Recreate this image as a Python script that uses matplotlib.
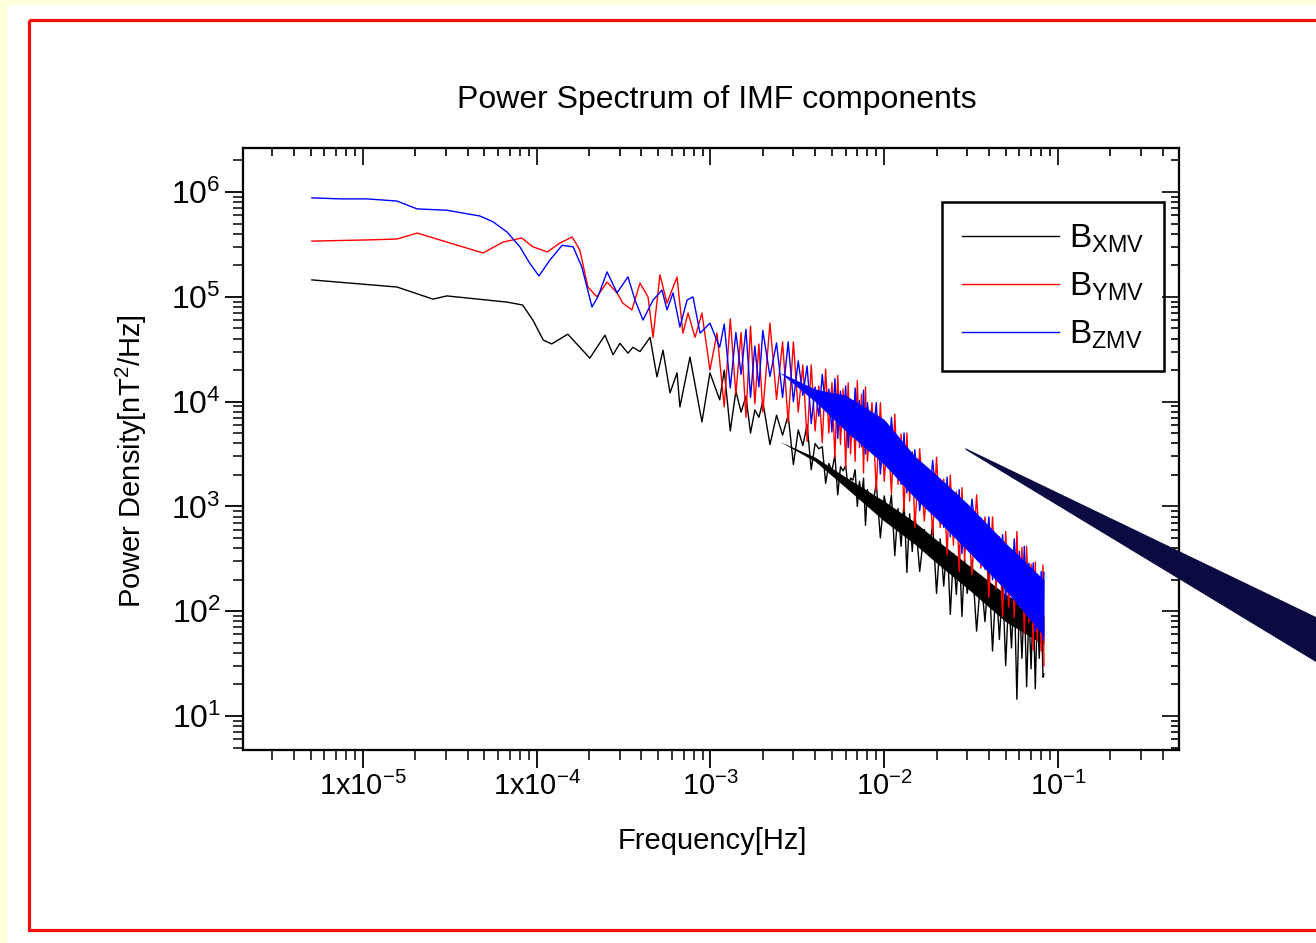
import numpy as np
import matplotlib.pyplot as plt
from matplotlib.patches import Rectangle, Polygon
from matplotlib.transforms import Affine2D
from matplotlib.ticker import LogLocator, NullFormatter

plt.rcParams['font.family'] = ['Liberation Sans', 'DejaVu Sans']
plt.rcParams['mathtext.default'] = 'regular'

W, H = 1316, 943

# ---- low-frequency part, read point by point (Hz, nT^2/Hz) ----
bx_freq_lo = [5.08e-6, 1.57e-5, 2.53e-5, 3.04e-5, 6.75e-5, 8.3e-5, 9.5e-5, 1.09e-4, 1.22e-4, 1.51e-4,
              2.02e-4, 2.47e-4, 2.75e-4, 3.01e-4, 3.35e-4, 3.58e-4, 3.93e-4, 4.49e-4, 4.92e-4, 5.33e-4,
              5.85e-4, 6.42e-4, 6.67e-4, 7.62e-4, 8.93e-4, 9.93e-4, 1.13e-3]
bx_power_lo = [1.45e5, 1.24e5, 9.5e4, 1.02e5, 8.9e4, 8.35e4, 6.0e4, 3.87e4, 3.55e4, 4.4e4,
               2.6e4, 4.3e4, 2.8e4, 3.6e4, 2.9e4, 3.3e4, 3.0e4, 4.1e4, 1.72e4, 3.1e4,
               1.21e4, 1.88e4, 8.9e3, 2.66e4, 6.4e3, 1.88e4, 1.04e4]

by_freq_lo = [5.08e-6, 1.14e-5, 1.57e-5, 2.05e-5, 3.04e-5, 4.9e-5, 6.4e-5, 8.2e-5, 9.5e-5, 1.15e-4,
              1.36e-4, 1.60e-4, 1.77e-4, 1.97e-4, 2.22e-4, 2.54e-4, 2.90e-4, 3.13e-4, 3.53e-4, 3.93e-4,
              4.37e-4, 4.67e-4, 5.12e-4, 5.62e-4, 6.42e-4, 6.94e-4, 7.43e-4, 8.15e-4, 8.93e-4, 9.93e-4,
              1.09e-3]
by_power_lo = [3.4e5, 3.5e5, 3.56e5, 4.06e5, 3.33e5, 2.62e5, 3.33e5, 3.64e5, 3.0e5, 2.68e5,
               3.26e5, 3.72e5, 2.8e5, 1.24e5, 1.0e5, 1.38e5, 1.09e5, 8.7e4, 7.5e4, 1.35e5,
               1.0e5, 4.1e4, 1.62e5, 8.7e4, 1.55e5, 4.5e4, 7.0e4, 4.1e4, 7.0e4, 2.0e4,
               4.5e4]

bz_freq_lo = [5.08e-6, 7.38e-6, 1.05e-5, 1.57e-5, 2.05e-5, 3.04e-5, 4.71e-5, 5.6e-5, 6.75e-5, 8.0e-5,
              9.1e-5, 1.03e-4, 1.19e-4, 1.40e-4, 1.62e-4, 1.82e-4, 2.08e-4, 2.25e-4, 2.54e-4, 2.90e-4,
              3.35e-4, 3.68e-4, 4.09e-4, 4.67e-4, 5.26e-4, 5.62e-4, 6.09e-4, 6.67e-4, 7.33e-4, 7.93e-4,
              8.71e-4, 9.93e-4, 1.13e-3]
bz_power_lo = [8.8e5, 8.6e5, 8.6e5, 8.2e5, 6.9e5, 6.7e5, 5.9e5, 5.2e5, 4.15e5, 3.0e5,
               2.1e5, 1.58e5, 2.24e5, 3.1e5, 3.0e5, 1.92e5, 8.0e4, 1.0e5, 1.73e5, 1.09e5,
               1.55e5, 9.3e4, 6.0e4, 9.3e4, 1.16e5, 7.5e4, 1.09e5, 5.15e4, 9.3e4, 1.0e5,
               4.5e4, 5.6e4, 3.3e4]

# ---- noisy high-frequency part: shared grid (Hz), log10 of power density ----
hf_freq = [1.2e-3, 1.3e-3, 1.4e-3, 1.5e-3, 1.6e-3, 1.7e-3, 1.8e-3, 1.9e-3, 2.0e-3,
           2.2e-3, 2.4e-3, 2.6e-3, 2.8e-3, 3.0e-3, 3.2e-3, 3.4e-3, 3.6e-3, 3.8e-3, 4.0e-3,
           4.2e-3, 4.4e-3, 4.6e-3, 4.8e-3, 5.0e-3, 5.2e-3, 5.4e-3, 5.6e-3, 5.8e-3, 6.0e-3,
           6.2e-3, 6.4e-3, 6.6e-3, 6.8e-3, 7.0e-3, 7.2e-3, 7.4e-3, 7.6e-3, 7.8e-3, 8.0e-3,
           8.5e-3, 9.0e-3, 9.5e-3, 1.0e-2, 1.05e-2, 1.1e-2, 1.15e-2, 1.2e-2, 1.25e-2, 1.3e-2,
           1.35e-2, 1.4e-2, 1.45e-2, 1.5e-2,
           1.6e-2, 1.7e-2, 1.8e-2, 1.9e-2, 2.0e-2, 2.1e-2, 2.2e-2, 2.3e-2, 2.4e-2, 2.5e-2,
           2.6e-2, 2.7e-2, 2.8e-2, 2.9e-2, 3.0e-2,
           3.2e-2, 3.4e-2, 3.6e-2, 3.8e-2, 4.0e-2, 4.2e-2, 4.4e-2, 4.6e-2, 4.8e-2, 5.0e-2,
           5.2e-2, 5.4e-2, 5.6e-2, 5.8e-2, 6.0e-2, 6.2e-2, 6.4e-2, 6.6e-2, 6.8e-2, 7.0e-2,
           7.2e-2, 7.4e-2, 7.6e-2, 7.8e-2, 8.0e-2, 8.2e-2, 8.3e-2]
bx_hf_log = [4.30, 3.72, 4.10, 3.90, 4.05, 3.70, 3.92, 3.85, 4.00,
             3.59, 3.87, 3.68, 3.87, 3.40, 3.73, 3.58, 3.78, 3.35, 3.60,
             3.55, 3.57, 3.22, 3.41, 3.34, 3.49, 3.11, 3.38, 3.34, 3.39,
             3.17, 3.27, 3.25, 3.35, 3.00, 3.24, 3.09, 3.27, 2.82, 3.16,
             2.97, 3.22, 2.70, 3.10, 2.89, 3.11, 2.53, 2.98, 2.62, 3.05,
             2.37, 2.93, 2.57, 2.94,
             2.38, 2.78, 2.55, 2.83, 2.17, 2.69, 2.24, 2.68, 1.97, 2.55,
             2.16, 2.63, 1.95, 2.50, 2.17,
             2.49, 1.81, 2.34, 1.90, 2.41, 1.62, 2.28, 1.73, 2.28, 1.48,
             2.15, 1.65, 2.24, 1.16, 2.12, 1.55, 2.13, 1.28, 2.01, 1.45,
             2.11, 1.26, 2.02, 1.55, 2.06, 1.37, 1.40]
by_hf_log = [3.95, 4.79, 4.07, 4.66, 3.85, 4.72, 3.98, 4.55, 3.90,
             4.75, 4.02, 4.57, 3.80, 4.57, 3.90, 4.35, 3.62, 4.35, 3.72,
             4.15, 3.61, 4.31, 3.70, 4.18, 3.46, 4.25, 3.59, 4.12, 3.37,
             4.18, 3.50, 4.01, 3.43, 4.20, 3.56, 4.07, 3.32, 4.14, 3.43,
             3.99, 3.15, 3.99, 3.24, 3.76, 3.12, 3.88, 3.21, 3.69, 2.95,
             3.70, 3.05, 3.52, 2.80,
             3.55, 2.86, 3.36, 2.73, 3.47, 2.80, 3.26, 2.54, 3.30, 2.63,
             3.14, 2.38, 3.18, 2.48, 2.99,
             2.35, 3.11, 2.41, 2.90, 2.13, 2.90, 2.21, 2.71, 1.95, 2.76,
             2.04, 2.57, 1.94, 2.76, 2.04, 2.61, 1.79, 2.62, 1.89, 2.45,
             1.63, 2.47, 1.72, 2.27, 1.62, 2.44, 1.48]
bz_hf_log = [4.74, 4.13, 4.66, 4.26, 4.69, 4.04, 4.53, 4.14, 4.68,
             4.24, 4.56, 4.04, 4.57, 4.00, 4.39, 4.06, 4.34, 3.79, 4.14,
             3.86, 4.26, 3.92, 4.12, 3.71, 4.22, 3.65, 4.10, 3.78, 4.15,
             3.56, 3.99, 3.66, 4.13, 3.77, 4.01, 3.57, 4.11, 3.50, 3.99,
             3.59, 3.99, 3.31, 3.77, 3.37, 3.85, 3.44, 3.66, 3.21, 3.70,
             3.13, 3.52, 3.23, 3.54,
             2.96, 3.34, 2.98, 3.44, 3.04, 3.24, 2.80, 3.28, 2.71, 3.14,
             2.81, 3.16, 2.55, 2.98, 2.62,
             3.07, 2.65, 2.89, 2.40, 2.90, 2.30, 2.72, 2.38, 2.73, 2.12,
             2.56, 2.18, 2.69, 2.26, 2.57, 2.05, 2.62, 1.97, 2.46, 2.06,
             2.46, 1.80, 2.27, 1.86, 2.38, 1.72, 2.37]

# solid core of the dense band (log10), opening up gradually from 2.5e-3 Hz
core_freq = [2.5e-3, 4e-3, 6e-3, 1e-2, 1.5e-2, 2e-2, 3e-2, 5e-2, 8.3e-2]
bx_core_hi = [3.62, 3.47, 3.28, 3.05, 2.85, 2.68, 2.45, 2.16, 1.96]
bx_core_lo = [3.62, 3.43, 3.18, 2.86, 2.64, 2.46, 2.22, 1.90, 1.68]
bz_core_hi = [4.28, 4.12, 4.06, 3.83, 3.48, 3.30, 3.03, 2.65, 2.30]
bz_core_lo = [4.28, 4.00, 3.72, 3.40, 3.08, 2.88, 2.58, 2.20, 1.76]

labels = [r'B$_{XMV}$', r'B$_{YMV}$', r'B$_{ZMV}$']
colors = ['#000000', '#FF0000', '#0000FF']
x_ticks = [1e-5, 1e-4, 1e-3, 1e-2, 1e-1]
x_tick_labels = [r'1x10$^{-5}$', r'1x10$^{-4}$', r'10$^{-3}$', r'10$^{-2}$', r'10$^{-1}$']
y_ticks = [1e1, 1e2, 1e3, 1e4, 1e5, 1e6]
y_tick_labels = [r'10$^{1}$', r'10$^{2}$', r'10$^{3}$', r'10$^{4}$', r'10$^{5}$', r'10$^{6}$']

fig = plt.figure(figsize=(W / 100, H / 100), dpi=100, facecolor='#FFFFDC')
pix = Affine2D().scale(1 / W, -1 / H).translate(0, 1) + fig.transFigure

# slide panel and red frame
fig.add_artist(Rectangle((7, 5), W, H, transform=pix, facecolor='white', edgecolor='none', zorder=-10))
fig.add_artist(Rectangle((29, 19.5), 1400, 910, transform=pix, facecolor='none',
                         edgecolor='#EE1111', lw=2.3, zorder=-9))

ax = fig.add_axes([243 / W, 1 - 750 / H, 936 / W, 602 / H])
ax.set_xscale('log')
ax.set_yscale('log')

series = [
    (bx_freq_lo, bx_power_lo, bx_hf_log),
    (by_freq_lo, by_power_lo, by_hf_log),
    (bz_freq_lo, bz_power_lo, bz_hf_log),
]
for i, (f_lo, p_lo, hf_log) in enumerate(series):
    f = np.concatenate([f_lo, hf_freq])
    p = np.concatenate([p_lo, 10 ** np.array(hf_log)])
    ax.plot(f, p, color=colors[i], lw=1.0, label=labels[i], zorder=2 + i)

ax.fill_between(core_freq, 10 ** np.array(bx_core_lo), 10 ** np.array(bx_core_hi),
                color=colors[0], lw=0, zorder=2)
ax.fill_between(core_freq, 10 ** np.array(bz_core_lo), 10 ** np.array(bz_core_hi),
                color=colors[2], lw=0, zorder=4)

ax.set_xlim(2.04e-6, 0.497)
ax.set_ylim(4.74, 2.63e6)

ax.set_xticks(x_ticks)
ax.set_xticklabels(x_tick_labels, fontsize=21)
ax.set_yticks(y_ticks)
ax.set_yticklabels(y_tick_labels, fontsize=23)
ax.xaxis.set_minor_locator(LogLocator(base=10, subs=range(2, 10), numticks=20))
ax.yaxis.set_minor_locator(LogLocator(base=10, subs=range(2, 10), numticks=20))
ax.xaxis.set_minor_formatter(NullFormatter())
ax.yaxis.set_minor_formatter(NullFormatter())
ax.tick_params(which='major', direction='out', length=13, width=1.3, pad=3)
ax.tick_params(which='minor', direction='out', length=7, width=1.1)
for s in ax.spines.values():
    s.set_linewidth(1.5)

# mirrored inward ticks on top and right
ax_top = ax.twiny()
ax_top.set_xscale('log')
ax_top.set_xlim(ax.get_xlim())
ax_top.set_xticks(x_ticks)
ax_top.xaxis.set_minor_locator(LogLocator(base=10, subs=range(2, 10), numticks=20))
ax_top.tick_params(which='both', direction='in', labeltop=False, width=1.2)
ax_top.tick_params(which='major', length=12)
ax_top.tick_params(which='minor', length=6)
ax_right = ax.twinx()
ax_right.set_yscale('log')
ax_right.set_ylim(ax.get_ylim())
ax_right.set_yticks(y_ticks)
ax_right.yaxis.set_minor_locator(LogLocator(base=10, subs=range(2, 10), numticks=20))
ax_right.tick_params(which='both', direction='in', labelright=False, width=1.2)
ax_right.tick_params(which='major', length=12)
ax_right.tick_params(which='minor', length=6)
for a in (ax_top, ax_right):
    for s in a.spines.values():
        s.set_linewidth(1.5)

ax.set_xlabel('Frequency[Hz]', fontsize=21)
ax.xaxis.set_label_coords(0.501, -0.128)
ax.set_ylabel(r'Power Density[nT$^{2}$/Hz]', fontsize=21)
ax.yaxis.set_label_coords(-0.100, 0.48)

fig.text(717 / W, 1 - 100 / H, 'Power Spectrum of IMF components', fontsize=23,
         ha='center', va='center')

leg = ax.legend(loc='upper left', bbox_to_anchor=(0.747, 0.910), borderaxespad=0,
                fontsize=24, frameon=True, fancybox=False, framealpha=1,
                edgecolor='black', handlelength=2.9, handletextpad=0.3,
                labelspacing=0.48, borderpad=0.6)
leg.get_frame().set_linewidth(1.8)
leg.set_zorder(10)

# dark pointer wedge from the slide
fig.add_artist(Polygon([(965, 448), (1316, 617), (1316, 662), (966, 450)], closed=True,
                       transform=pix, facecolor='#0b0b42', edgecolor='none', zorder=5))

fig.savefig('out.png', dpi=100, facecolor=fig.get_facecolor())
